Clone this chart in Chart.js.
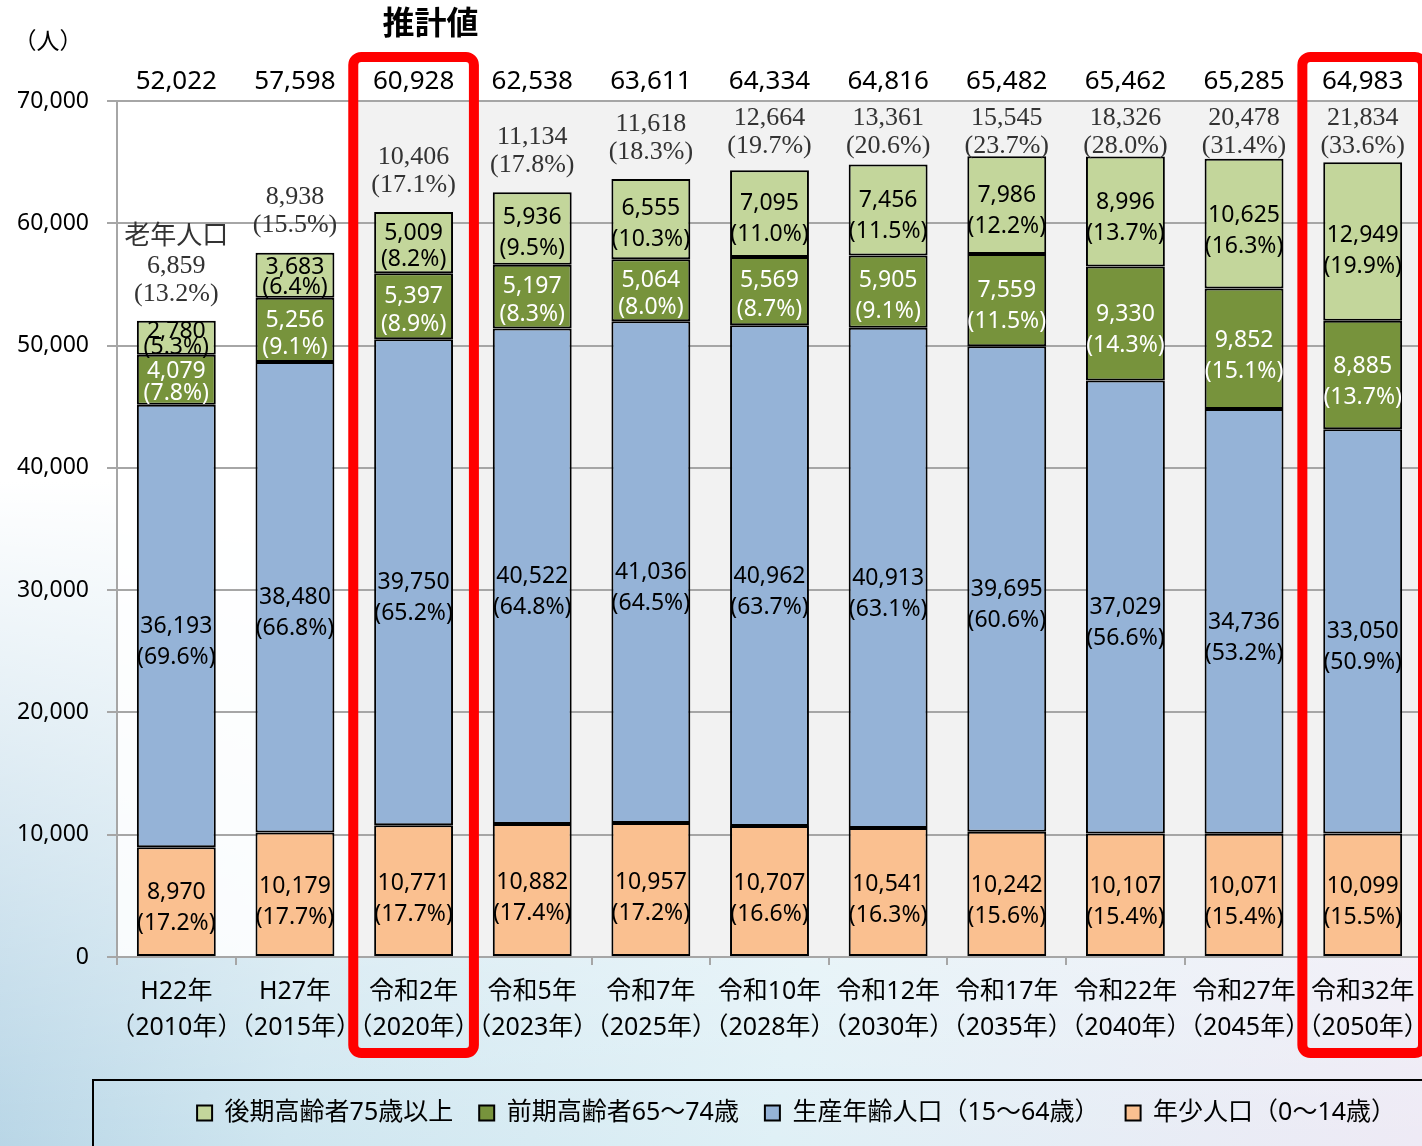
<!DOCTYPE html>
<html lang="ja">
<head>
<meta charset="utf-8">
<title>人口推計</title>
<script src="https://cdn.jsdelivr.net/npm/chart.js@4.4.1/dist/chart.umd.min.js"></script>
<style>
  html, body { margin: 0; padding: 0; }
  body {
    width: 1422px;
    height: 1146px;
    overflow: hidden;
    background:
      linear-gradient(to bottom, #ffffff 0%, #ffffff 42%, rgba(255,255,255,0) 100%),
      linear-gradient(100deg, #a9cbe0 0%, #cfe6f0 30%, #dff0f6 60%, #eeeaf5 100%);
  }
  #wrap { position: relative; width: 1422px; height: 1146px; }
</style>
</head>
<body>
<div id="wrap"><canvas id="popChart"></canvas></div>
<script>
// categories
const categoryLabels = [
  ["H22年", "（2010年）"], ["H27年", "（2015年）"], ["令和2年", "（2020年）"],
  ["令和5年", "（2023年）"], ["令和7年", "（2025年）"], ["令和10年", "（2028年）"],
  ["令和12年", "（2030年）"], ["令和17年", "（2035年）"], ["令和22年", "（2040年）"],
  ["令和27年", "（2045年）"], ["令和32年", "（2050年）"]
];

// series (people)
const youth = [8970, 10179, 10771, 10882, 10957, 10707, 10541, 10242, 10107, 10071, 10099];
const working = [36193, 38480, 39750, 40522, 41036, 40962, 40913, 39695, 37029, 34736, 33050];
const earlyElderly = [4079, 5256, 5397, 5197, 5064, 5569, 5905, 7559, 9330, 9852, 8885];
const lateElderly = [2780, 3683, 5009, 5936, 6555, 7095, 7456, 7986, 8996, 10625, 12949];

// shares (%)
const youthPct = [17.2, 17.7, 17.7, 17.4, 17.2, 16.6, 16.3, 15.6, 15.4, 15.4, 15.5];
const workingPct = [69.6, 66.8, 65.2, 64.8, 64.5, 63.7, 63.1, 60.6, 56.6, 53.2, 50.9];
const earlyPct = [7.8, 9.1, 8.9, 8.3, 8.0, 8.7, 9.1, 11.5, 14.3, 15.1, 13.7];
const latePct = [5.3, 6.4, 8.2, 9.5, 10.3, 11.0, 11.5, 12.2, 13.7, 16.3, 19.9];

// totals
const totals = [52022, 57598, 60928, 62538, 63611, 64334, 64816, 65482, 65462, 65285, 64983];
const elderlyTotals = [6859, 8938, 10406, 11134, 11618, 12664, 13361, 15545, 18326, 20478, 21834];
const elderlyPct = [13.2, 15.5, 17.1, 17.8, 18.3, 19.7, 20.6, 23.7, 28.0, 31.4, 33.6];

const yTickMax = 70000;
const yTickStep = 10000;
const highlighted = [2, 10];

const SANS = '"Noto Sans", "Noto Sans CJK JP", sans-serif';
const SERIF = '"Liberation Serif", "Noto Sans CJK JP", serif';
const GRID = "#a6a6a6";
const LEGEND_PAD = 26;

const fmt = v => v.toLocaleString("en-US");

const backdrop = {
  id: "backdrop",
  beforeDraw(chart) {
    const { ctx, chartArea: a, scales: { x } } = chart;
    const split = (x.getPixelForValue(1) + x.getPixelForValue(2)) / 2;
    ctx.save();
    ctx.fillStyle = "rgba(255,255,255,0.85)";
    ctx.fillRect(a.left, a.top, split - a.left, a.bottom - a.top);
    ctx.fillStyle = "#f2f2f2";
    ctx.fillRect(split, a.top, a.right - split, a.bottom - a.top);
    ctx.restore();
  }
};

const segmentLabels = {
  id: "segmentLabels",
  afterDatasetsDraw(chart) {
    const { ctx } = chart;
    ctx.save();
    ctx.textAlign = "center";
    ctx.textBaseline = "middle";
    ctx.font = `23px ${SANS}`;
    chart.data.datasets.forEach((ds, di) => {
      chart.getDatasetMeta(di).data.forEach((bar, i) => {
        const h = bar.base - bar.y;
        const mid = (bar.y + bar.base) / 2 + Math.min(h * 0.06, 16);
        const gap = Math.min(31, h * 0.38 + 3);
        ctx.fillStyle = ds.labelColor;
        ctx.fillText(fmt(ds.data[i]), bar.x, mid - gap / 2);
        ctx.fillText(`(${ds.pct[i].toFixed(1)}%)`, bar.x, mid + gap / 2);
      });
    });
    ctx.restore();
  }
};

const annotations = {
  id: "annotations",
  afterDraw(chart) {
    const { ctx, chartArea: a, scales: { x }, legend } = chart;
    const step = x.getPixelForValue(1) - x.getPixelForValue(0);
    ctx.save();
    ctx.textAlign = "center";
    ctx.textBaseline = "middle";

    // totals above plot
    ctx.fillStyle = "#000";
    ctx.font = `26px ${SANS}`;
    totals.forEach((t, i) => ctx.fillText(fmt(t), x.getPixelForValue(i), a.top - 19));

    // elderly totals above each bar
    ctx.fillStyle = "#333";
    ctx.font = `26px ${SERIF}`;
    const topBars = chart.getDatasetMeta(3).data;
    elderlyTotals.forEach((v, i) => {
      const cx = x.getPixelForValue(i);
      const pctY = Math.max(topBars[i].y - 27, a.top + 45);
      ctx.fillText(`(${elderlyPct[i].toFixed(1)}%)`, cx, pctY);
      ctx.fillText(fmt(v), cx, pctY - 28);
      if (i === 0) ctx.fillText("老年人口", cx, pctY - 57);
    });

    // unit label
    ctx.fillStyle = "#000";
    ctx.font = `23px ${SANS}`;
    ctx.fillText("（人）", 48, 42);

    // red highlight boxes
    ctx.strokeStyle = "#ff0000";
    ctx.lineWidth = 10;
    highlighted.forEach(i => {
      const cx = x.getPixelForValue(i);
      ctx.beginPath();
      ctx.roundRect(cx - step / 2 - 1, a.top - 44, step + 2, a.bottom - a.top + 140, 8);
      ctx.stroke();
    });

    ctx.font = `bold 32px ${SANS}`;
    ctx.fillText("推計値", x.getPixelForValue(highlighted[0]) + 17, 25);

    // legend frame
    ctx.strokeStyle = "#000";
    ctx.lineWidth = 2;
    ctx.strokeRect(93, legend.top + LEGEND_PAD + 12.5 - 33, 1422, 90);
    ctx.restore();
  }
};

const makeSet = (label, data, pct, color, labelColor) => ({
  label, data, pct, labelColor,
  backgroundColor: color,
  borderColor: "#000",
  borderWidth: 2,
  borderSkipped: false,
  barPercentage: 0.665,
  categoryPercentage: 1
});

new Chart(document.getElementById("popChart"), {
  type: "bar",
  data: {
    labels: categoryLabels,
    datasets: [
      makeSet("年少人口（0～14歳）", youth, youthPct, "#fac090", "#000"),
      makeSet("生産年齢人口（15～64歳）", working, workingPct, "#95b3d7", "#000"),
      makeSet("前期高齢者65～74歳", earlyElderly, earlyPct, "#77933c", "#fff"),
      makeSet("後期高齢者75歳以上", lateElderly, latePct, "#c3d69b", "#000")
    ]
  },
  options: {
    responsive: true,
    maintainAspectRatio: false,
    animation: false,
    layout: { padding: { top: 101, left: 0, right: 0, bottom: 10.5 } },
    plugins: {
      tooltip: { enabled: false },
      legend: {
        position: "bottom",
        align: "end",
        reverse: true,
        labels: {
          color: "#000",
          font: { family: SANS, size: 25 },
          boxWidth: 15,
          boxHeight: 15,
          padding: LEGEND_PAD
        }
      }
    },
    scales: {
      x: {
        stacked: true,
        grid: { offset: true, drawOnChartArea: false, drawTicks: true, tickLength: 8, color: GRID, lineWidth: 2 },
        border: { color: GRID, width: 2 },
        ticks: { color: "#000", font: { family: SANS, size: 25, lineHeight: 1.44 }, padding: 9, maxRotation: 0, autoSkip: false },
        afterFit(s) {
          s.height = 143.5 - LEGEND_PAD;
          s.paddingLeft = 0;
          s.paddingRight = 0;
        }
      },
      y: {
        stacked: true,
        min: 0,
        max: yTickMax,
        grid: { color: GRID, lineWidth: 2, tickLength: 10 },
        border: { color: GRID, width: 2 },
        ticks: { stepSize: yTickStep, color: "#000", font: { family: SANS, size: 23 }, padding: 18, callback: v => fmt(v) },
        afterFit(s) { s.width = 117; }
      }
    }
  },
  plugins: [backdrop, segmentLabels, annotations]
});
</script>
</body>
</html>
